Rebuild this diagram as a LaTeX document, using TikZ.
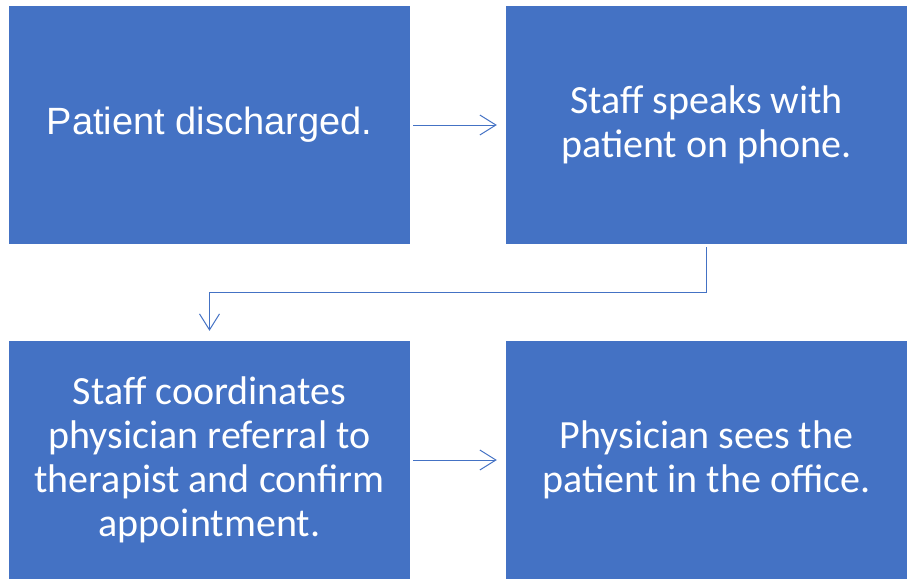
\documentclass[tikz,border=0pt]{standalone}
\usepackage{fontspec}
\setmainfont{Carlito}
\newfontfamily\firstfont{Liberation Sans}
\usetikzlibrary{arrows.meta}
\definecolor{boxblue}{HTML}{4472C4}
\begin{document}
\begin{tikzpicture}[x=1pt,y=-1pt,
  stepbox/.style={fill=boxblue,draw=none,minimum width=401pt,minimum height=238pt,inner sep=0pt,
    text=white,align=center,font=\fontsize{40}{44}\selectfont},
  conn/.style={draw=boxblue,line width=1pt,-{Straight Barb[length=16pt,width=20pt,line width=1pt]}}]
\useasboundingbox (0,0) rectangle (911,581);
\node[stepbox] (a) at (209.5,125) {\firstfont\fontsize{38}{44}\selectfont\raisebox{-2pt}{Patient discharged.}};
\node[stepbox] (b) at (706.5,125) {Staff speaks with\\patient on phone.};
\node[stepbox] (c) at (209.5,460) {Staff coordinates\\physician referral to\\therapist and confirm\\appointment.};
\node[stepbox] (d) at (706.5,460) {Physician sees the\\patient in the office.};
\draw[conn] ([xshift=3pt]a.east) -- ([xshift=-9pt]b.west);
\draw[conn] ([yshift=-3pt]b.south) -- ++(0,45) -| ([yshift=10pt]c.north);
\draw[conn] ([xshift=3pt]c.east) -- ([xshift=-9pt]d.west);
\end{tikzpicture}
\end{document}
